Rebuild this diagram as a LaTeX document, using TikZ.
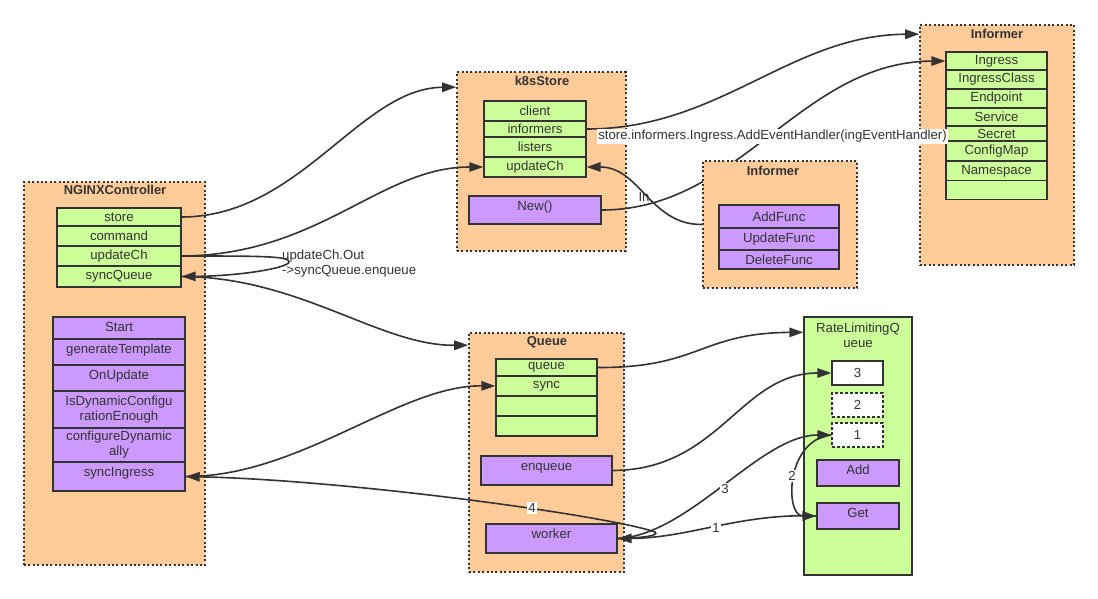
\documentclass[tikz,border=0pt]{standalone}
\usepackage{fontspec}
\setmainfont{Liberation Sans}
\usetikzlibrary{arrows.meta}
\definecolor{org}{HTML}{FFCC99}
\definecolor{grn}{HTML}{CCFF99}
\definecolor{prp}{HTML}{CC99FF}
\definecolor{dk}{HTML}{333333}
\newcommand\fsz{\fontsize{13.2}{15}\selectfont}
\newcommand\tsz{\fontsize{12.9}{15}\selectfont\bfseries}
\tikzset{
 sz/.style 2 args={minimum width=#1, minimum height=#2},
 cont/.style={fill=org, draw=dk, line width=1.7pt, dash pattern=on 2pt off 2.4pt, inner sep=0},
 ttl/.style={font=\tsz, text=dk, inner sep=0},
 fld/.style={fill=grn, draw=dk, line width=1.4pt, inner sep=0, font=\fsz, text=dk},
 mth/.style={fill=prp, draw=dk, line width=1.4pt, inner sep=0, font=\fsz, text=dk},
 tt/.style={text height=14pt, text depth=#1},
 wbox/.style={fill=white, draw=dk, line width=1.4pt, inner sep=0, font=\fsz, text=dk, sz={51pt}{24pt}},
 conn/.style={draw=dk, line width=1.6pt, -{Triangle[length=14pt,width=9.5pt]}},
 lbl/.style={font=\fsz, text=dk, fill=white, inner sep=1pt},
 plain/.style={font=\fsz, text=dk, inner sep=0},
}
\begin{document}
\begin{tikzpicture}[x=1pt,y=-1pt]
\useasboundingbox[fill=white] (0,0) rectangle (1098,599);

% NGINXController
\node[cont, sz={181pt}{383pt}] (nc) at (114.5,373.5) {};
\node[ttl] (ncT) at (115,190) {NGINXController};
\node[fld, sz={124pt}{18pt}] (ncStore) at (119,217) {store};
\node[fld, sz={124pt}{20pt}] (ncCmd) at (119,236) {command};
\node[fld, sz={124pt}{20pt}] (ncUpd) at (119,256) {updateCh};
\node[fld, sz={124pt}{21pt}] (ncSync) at (119,276.5) {syncQueue};
\node[mth, sz={132pt}{22pt}, tt=8pt] (ncStart) at (119,328) {Start};
\node[mth, sz={132pt}{26pt}, tt=12pt] (ncGen) at (119,352) {generateTemplate};
\node[mth, sz={132pt}{26pt}, tt=12pt] (ncOn) at (119,378) {OnUpdate};
\node[mth, sz={132pt}{37pt}, align=center] (ncIs) at (119,409.5) {IsDynamicConfigu\\rationEnough};
\node[mth, sz={132pt}{34pt}, align=center] (ncCfg) at (119,445) {configureDynamic\\ally};
\node[mth, sz={132pt}{29pt}, tt=15pt] (ncSI) at (119,476.5) {syncIngress};

% k8sStore
\node[cont, sz={169pt}{179pt}] (ks) at (541.5,161.5) {};
\node[ttl] (ksT) at (542,81) {k8sStore};
\node[fld, sz={102pt}{20pt}] (ksCl) at (535,111) {client};
\node[fld, sz={102pt}{16pt}] (ksInf) at (535,129) {informers};
\node[fld, sz={102pt}{20pt}] (ksLis) at (535,147) {listers};
\node[fld, sz={102pt}{20pt}] (ksUpd) at (535,167) {updateCh};
\node[mth, sz={132pt}{28pt}, tt=14pt] (ksNew) at (535,210) {New()};

% big Informer
\node[cont, sz={154pt}{240pt}] (bi) at (997,145) {};
\node[ttl] (biT) at (997,34) {Informer};
\node[fld, sz={101pt}{18pt}] (biIng) at (996.5,61) {Ingress};
\node[fld, sz={101pt}{19pt}] (biIC) at (996.5,79.5) {IngressClass};
\node[fld, sz={101pt}{19pt}] (biEp) at (996.5,98.5) {Endpoint};
\node[fld, sz={101pt}{18pt}] (biSvc) at (996.5,117) {Service};
\node[fld, sz={101pt}{15pt}] (biSec) at (996.5,133.5) {Secret};
\node[fld, sz={101pt}{20pt}] (biCM) at (996.5,151) {ConfigMap};
\node[fld, sz={101pt}{19pt}] (biNs) at (996.5,171) {Namespace};
\node[fld, sz={101pt}{19pt}] (biE) at (996.5,190) {};

% Queue
\node[cont, sz={155pt}{239pt}] (q) at (546.5,452.5) {};
\node[ttl] (qT) at (547,342) {Queue};
\node[fld, sz={101pt}{17pt}] (qQueue) at (546.5,367.5) {queue};
\node[fld, sz={101pt}{20pt}] (qSync) at (546.5,386) {sync};
\node[fld, sz={101pt}{20pt}] (qE1) at (546.5,406) {};
\node[fld, sz={101pt}{20pt}] (qE2) at (546.5,426) {};
\node[mth, sz={131pt}{29pt}, tt=15pt] (qEnq) at (546.5,470.5) {enqueue};
\node[mth, sz={131pt}{29pt}, tt=15pt] (wk) at (551.5,538.5) {worker};

% RateLimitingQueue
\node[fill=grn, draw=dk, line width=1.4pt, sz={108pt}{258pt}] (rl) at (858,446) {};
\node[plain, align=center] (rlT) at (858,335) {RateLimitingQ\\ueue};
\node[wbox] (rl3) at (857.5,373) {3};
\node[wbox, dash pattern=on 3pt off 2pt] (rl2) at (857.5,405) {2};
\node[wbox, dash pattern=on 3pt off 2pt] (rl1) at (857.5,435) {1};
\node[mth, sz={82pt}{26pt}, tt=12pt] (rlAdd) at (858,473) {Add};
\node[mth, sz={82pt}{26pt}, tt=12pt] (rlGet) at (858,516) {Get};

% edge passing behind the small Informer
\draw[conn] (ksNew.east) .. controls (740,210) and (800,62) .. (biIng.west);

% small Informer
\node[cont, sz={154pt}{127pt}] (sinf) at (780,224.5) {};
\node[ttl] (sinfT) at (773,171) {Informer};
\node[mth, sz={120pt}{23pt}] (sAdd) at (779,216.5) {AddFunc};
\node[mth, sz={120pt}{22pt}] (sUpd) at (779,239) {UpdateFunc};
\node[mth, sz={120pt}{19pt}] (sDel) at (779,259.5) {DeleteFunc};

% connectors
\draw[conn] (ncStore.east) .. controls (300,217) and (360,88) .. ([yshift=-16pt]ks.north west);
\draw[conn] (ncUpd.east) .. controls (320,255) and (380,167) .. (ksUpd.west);
\draw[conn] (ncUpd.east) .. controls (260,256) and (290,256) .. (289,262) .. controls (288,268) and (240,276) .. (ncSync.east);
\draw[conn] (ncSync.east) .. controls (300,277) and (380,346) .. ([yshift=-13pt]q.north west);
\draw[conn] (ncSI.east) .. controls (300,477) and (400,385) .. (qSync.west);
\draw[conn] (wk.east) .. controls (640,538) and (660,536) .. (655,532) .. controls (610,516) and (350,480) .. (ncSI.east);
\draw[conn] (rlGet.west) .. controls (740,513) and (690,538) .. (wk.east);
\draw[conn] (wk.east) .. controls (690,535) and (760,435) .. (rl1.west);
\draw[conn] (rl1.west) .. controls (785,440) and (785,516) .. (rlGet.west);
\draw[conn] (qQueue.east) .. controls (700,368) and (700,333) .. ([yshift=-16pt]rl.north west);
\draw[conn] (qEnq.east) .. controls (720,470) and (740,373) .. (rl3.west);
\draw[conn] (ksInf.east) .. controls (720,129) and (790,35) .. ([yshift=-10pt]bi.north west);
\draw[conn] (sinf.west) .. controls (650,225) and (640,167) .. (ksUpd.east);

% labels
\node[plain, align=left, anchor=west] (lUpd) at (282,264) {updateCh.Out\\->syncQueue.enqueue};
\node[lbl] (l4) at (532,508) {4};
\node[lbl] (l1) at (716,528) {1};
\node[lbl] (l3) at (725,489) {3};
\node[lbl] (l2) at (792,476) {2};
\node[plain] (lIn) at (644,197) {In};
\node[lbl] (lLong) at (772.5,136.5) {store.informers.Ingress.AddEventHandler(ingEventHandler)};
\end{tikzpicture}
\end{document}
